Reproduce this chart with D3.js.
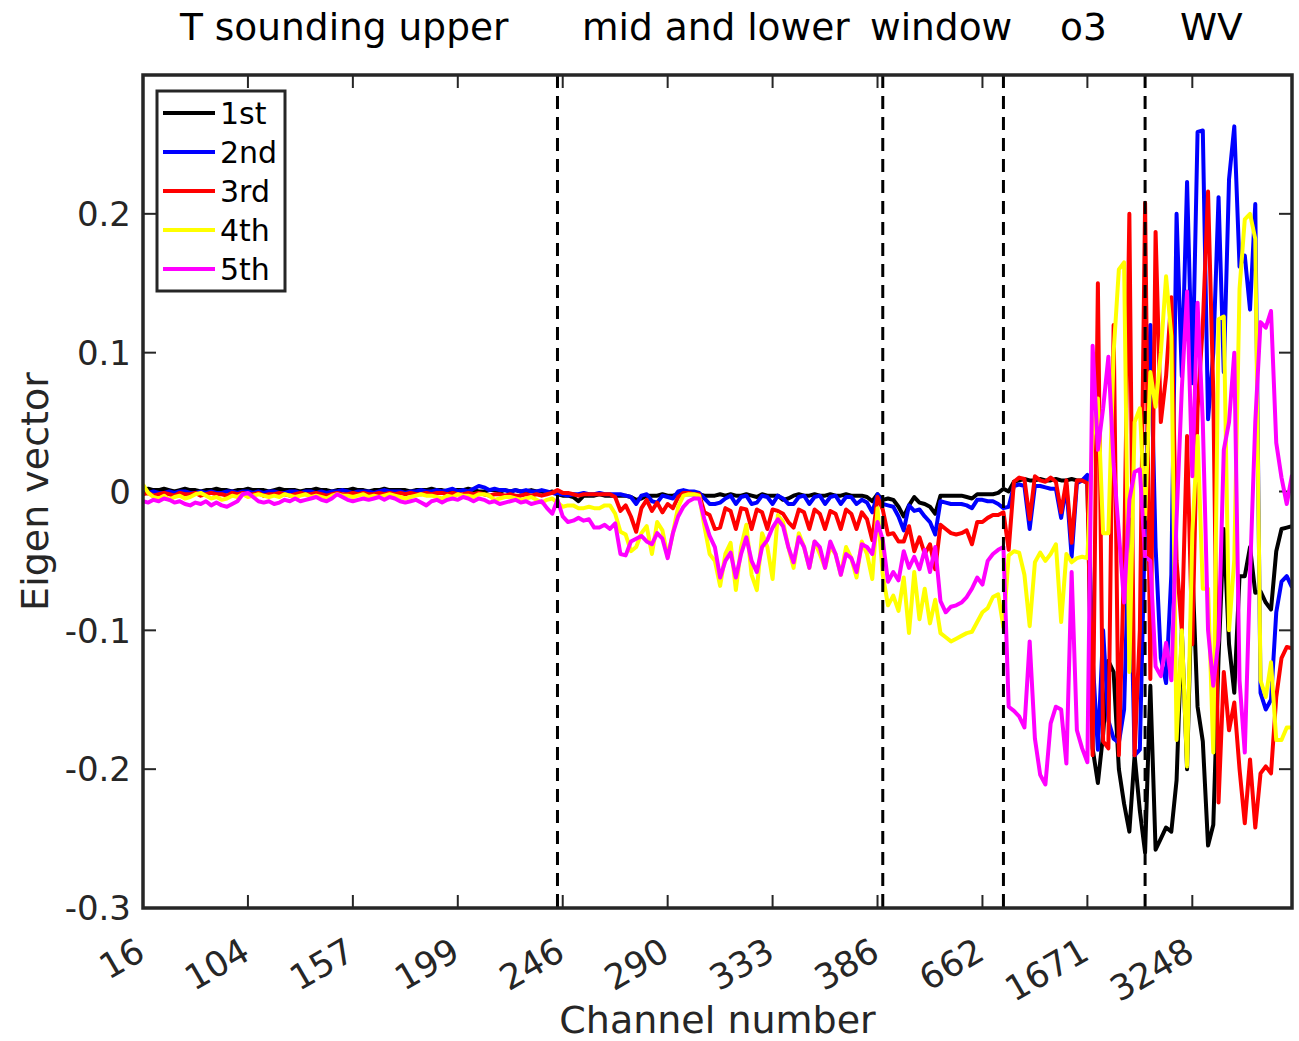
<!DOCTYPE html>
<html>
<head>
<meta charset="utf-8">
<script src="https://cdn.jsdelivr.net/npm/d3@7"></script>
<style>
  body { margin: 0; background: #fff; }
  svg { display: block; }
  text { font-family: "DejaVu Sans", sans-serif; fill: #262626; }
</style>
</head>
<body>
<svg id="chart" width="1299" height="1041"></svg>
<script>
// Channel labels shown under every 20th channel index
const tickLabels = ["16", "104", "157", "199", "246", "290", "333", "386", "662", "1671", "3248"];
// Spectral bands written across the top
const bandLabels = ["T sounding upper", "mid and lower", "window", "o3", "WV"];
// Channel indices where one band ends and the next begins
const bandBreaks = [80, 142, 165, 192];
const yTicks = [-0.3, -0.2, -0.1, 0, 0.1, 0.2];
const seriesNames = ["1st", "2nd", "3rd", "4th", "5th"];

// Leading eigenvectors, one value per selected channel (220 channels)
const pc1 = [
  0.001,0.002,0.001,0.001,0.002,0.001,0.000,0.001,0.002,0.001,
  0.001,0.000,0.001,0.001,0.002,0.001,0.001,0.000,0.001,0.001,
  0.002,0.001,0.001,0.001,0.000,0.001,0.002,0.001,0.001,0.001,
  0.000,0.001,0.001,0.002,0.001,0.001,0.000,0.001,0.001,0.001,
  0.002,0.001,0.001,0.000,0.001,0.001,0.002,0.001,0.001,0.001,
  0.001,0.000,0.001,0.001,0.001,0.002,0.001,0.001,0.000,0.001,
  0.001,0.001,0.002,0.001,0.000,0.000,0.001,0.001,0.000,0.001,
  0.000,0.001,0.000,0.000,0.001,0.000,0.000,-0.001,0.000,-0.002,
  -0.003,-0.003,-0.004,-0.007,-0.003,-0.003,-0.003,-0.002,-0.003,-0.003,
  -0.003,-0.003,-0.003,-0.004,-0.006,-0.005,-0.003,-0.003,-0.003,-0.002,
  -0.003,-0.003,-0.002,-0.002,-0.002,-0.002,-0.002,-0.003,-0.003,-0.003,
  -0.002,-0.003,-0.002,-0.003,-0.003,-0.002,-0.003,-0.004,-0.002,-0.003,
  -0.003,-0.003,-0.006,-0.005,-0.003,-0.002,-0.003,-0.003,-0.002,-0.003,
  -0.003,-0.002,-0.003,-0.003,-0.002,-0.003,-0.003,-0.003,-0.004,-0.007,
  -0.002,-0.006,-0.005,-0.006,-0.011,-0.018,-0.010,-0.004,-0.008,-0.009,
  -0.011,-0.016,-0.003,-0.003,-0.003,-0.003,-0.003,-0.004,-0.005,-0.002,
  -0.002,-0.002,-0.002,-0.001,0.002,0.000,0.007,0.008,0.009,0.008,
  0.008,0.009,0.008,0.008,0.009,0.008,0.008,0.009,0.008,0.008,
  0.007,-0.185,-0.210,-0.175,-0.122,-0.130,-0.200,-0.225,-0.245,-0.190,
  -0.230,-0.260,-0.140,-0.258,-0.250,-0.242,-0.245,-0.208,-0.100,-0.200,
  -0.055,-0.155,-0.180,-0.255,-0.240,-0.120,-0.027,-0.110,-0.145,-0.061,
  -0.061,-0.040,-0.073,-0.072,-0.080,-0.085,-0.043,-0.027,-0.026,-0.025
];
const pc2 = [
  0.000,-0.001,0.000,-0.001,-0.001,0.000,-0.001,0.000,0.000,-0.001,
  -0.001,0.000,-0.001,0.000,-0.001,-0.001,0.000,0.000,-0.001,0.000,
  0.000,-0.001,0.000,-0.001,0.000,0.000,-0.001,-0.001,0.000,0.000,
  -0.001,0.000,0.000,-0.001,0.000,-0.001,0.000,0.000,0.001,0.000,
  -0.001,0.000,0.000,0.000,-0.001,0.000,0.001,0.000,0.000,0.000,
  -0.001,0.000,0.000,0.001,0.000,0.000,0.001,0.000,0.001,0.002,
  0.000,0.001,0.000,0.002,0.004,0.003,0.001,0.002,0.001,0.001,
  0.000,0.001,0.000,0.001,0.000,0.000,0.001,0.000,-0.001,-0.002,
  -0.002,-0.003,-0.002,-0.002,-0.001,-0.002,-0.002,-0.001,-0.002,-0.002,
  -0.002,-0.002,-0.003,-0.004,-0.009,-0.003,-0.002,-0.007,-0.008,-0.003,
  -0.004,-0.005,0.000,0.001,0.000,0.000,-0.001,-0.005,-0.009,-0.009,
  -0.008,-0.005,-0.003,-0.009,-0.004,-0.003,-0.009,-0.008,-0.003,-0.004,
  -0.009,-0.003,-0.005,-0.009,-0.009,-0.004,-0.003,-0.009,-0.004,-0.003,
  -0.009,-0.004,-0.003,-0.009,-0.004,-0.004,-0.009,-0.006,-0.008,-0.015,
  -0.002,-0.009,-0.010,-0.011,-0.018,-0.028,-0.010,-0.014,-0.013,-0.018,
  -0.022,-0.031,-0.007,-0.008,-0.009,-0.009,-0.009,-0.010,-0.012,-0.006,
  -0.006,-0.007,-0.007,-0.009,-0.012,-0.011,0.004,0.005,0.004,-0.027,
  0.004,0.004,0.003,0.002,0.002,-0.019,0.004,-0.047,0.006,0.008,
  0.012,-0.120,-0.186,-0.100,-0.165,-0.178,-0.181,-0.157,-0.020,-0.190,
  -0.186,-0.020,0.120,-0.040,-0.120,-0.138,-0.060,0.200,0.083,0.223,
  0.078,0.259,0.260,0.052,0.100,0.212,0.086,0.225,0.263,0.162,
  0.170,0.131,0.207,-0.145,-0.157,-0.150,-0.087,-0.065,-0.061,-0.069
];
const pc3 = [
  -0.002,-0.001,-0.003,-0.002,-0.001,-0.002,-0.003,-0.001,-0.002,-0.002,
  -0.001,-0.003,-0.002,-0.001,-0.002,-0.002,-0.003,-0.001,-0.002,-0.001,
  -0.002,-0.002,-0.001,-0.003,-0.002,-0.002,-0.001,-0.002,-0.003,-0.002,
  -0.001,-0.002,-0.002,-0.001,-0.002,-0.003,-0.002,-0.001,-0.002,-0.002,
  -0.001,-0.002,-0.001,-0.002,-0.002,-0.001,-0.002,-0.001,-0.002,-0.001,
  -0.002,-0.001,-0.002,-0.002,-0.001,-0.002,-0.001,-0.001,-0.002,-0.001,
  -0.002,-0.002,-0.001,-0.002,-0.001,-0.002,-0.003,-0.002,-0.002,-0.003,
  -0.002,-0.003,-0.003,-0.002,-0.003,-0.002,-0.003,-0.002,-0.001,0.001,
  -0.001,-0.001,-0.002,-0.003,-0.002,-0.002,-0.002,-0.002,-0.002,-0.002,
  -0.004,-0.014,-0.010,-0.018,-0.029,-0.012,-0.006,-0.014,-0.008,-0.015,
  -0.009,-0.012,-0.004,-0.001,-0.001,-0.002,-0.002,-0.015,-0.017,-0.027,
  -0.026,-0.012,-0.014,-0.027,-0.012,-0.013,-0.027,-0.013,-0.015,-0.027,
  -0.013,-0.014,-0.016,-0.022,-0.026,-0.013,-0.015,-0.027,-0.013,-0.016,
  -0.027,-0.014,-0.016,-0.027,-0.013,-0.016,-0.027,-0.015,-0.020,-0.035,
  -0.004,-0.013,-0.031,-0.030,-0.036,-0.036,-0.025,-0.043,-0.033,-0.045,
  -0.038,-0.056,-0.024,-0.027,-0.030,-0.031,-0.030,-0.028,-0.038,-0.022,
  -0.022,-0.019,-0.017,-0.017,-0.015,-0.042,0.007,0.010,0.009,-0.020,
  0.011,0.008,0.007,0.010,0.007,-0.015,0.008,-0.037,0.008,0.008,
  0.006,-0.190,0.150,-0.180,-0.185,0.120,-0.190,-0.050,0.200,-0.190,
  -0.100,0.208,-0.135,0.187,0.050,0.083,0.140,-0.050,-0.100,0.040,
  -0.110,0.060,0.120,0.216,0.071,-0.224,-0.130,-0.172,-0.152,-0.200,
  -0.239,-0.193,-0.242,-0.203,-0.198,-0.203,-0.148,-0.120,-0.112,-0.113
];
const pc4 = [
  0.005,-0.001,-0.004,-0.005,-0.003,-0.006,-0.004,-0.003,-0.005,-0.004,
  -0.002,-0.001,-0.003,-0.005,-0.004,-0.006,-0.005,-0.003,-0.004,-0.002,
  -0.004,-0.003,-0.002,-0.003,-0.004,-0.003,-0.004,-0.002,-0.003,-0.004,
  -0.003,-0.002,-0.004,-0.003,-0.004,-0.005,-0.003,-0.002,-0.003,-0.003,
  -0.004,-0.003,-0.002,-0.004,-0.003,-0.004,-0.003,-0.002,-0.003,-0.004,
  -0.005,-0.004,-0.003,-0.002,-0.003,-0.003,-0.004,-0.005,-0.003,-0.004,
  -0.002,-0.003,-0.003,-0.004,-0.002,-0.002,-0.003,-0.006,-0.005,-0.004,
  -0.004,-0.005,-0.006,-0.005,-0.004,-0.006,-0.008,-0.006,-0.005,-0.008,
  -0.011,-0.010,-0.010,-0.012,-0.012,-0.011,-0.012,-0.012,-0.010,-0.010,
  -0.016,-0.029,-0.031,-0.043,-0.040,-0.030,-0.025,-0.045,-0.022,-0.028,
  -0.047,-0.030,-0.011,-0.003,-0.002,-0.002,-0.003,-0.025,-0.045,-0.050,
  -0.068,-0.045,-0.037,-0.071,-0.040,-0.024,-0.060,-0.071,-0.030,-0.040,
  -0.063,-0.017,-0.022,-0.040,-0.055,-0.030,-0.040,-0.055,-0.036,-0.045,
  -0.055,-0.040,-0.045,-0.060,-0.040,-0.048,-0.062,-0.036,-0.045,-0.063,
  -0.012,-0.060,-0.082,-0.075,-0.086,-0.062,-0.102,-0.058,-0.092,-0.070,
  -0.095,-0.078,-0.102,-0.105,-0.108,-0.106,-0.104,-0.102,-0.101,-0.094,
  -0.087,-0.084,-0.076,-0.074,-0.098,-0.046,-0.043,-0.044,-0.060,-0.097,
  -0.051,-0.044,-0.050,-0.045,-0.038,-0.094,-0.045,-0.051,-0.048,-0.047,
  -0.048,0.040,0.067,-0.030,-0.030,0.100,0.160,0.165,-0.130,0.050,
  0.060,-0.020,0.086,0.061,0.100,0.155,0.112,-0.179,-0.100,-0.198,
  -0.030,0.040,-0.070,-0.070,-0.188,0.124,0.126,-0.100,-0.049,0.146,
  0.196,0.200,0.182,-0.136,-0.148,-0.123,-0.179,-0.179,-0.170,-0.170
];
const pc5 = [
  -0.007,-0.008,-0.006,-0.007,-0.005,-0.006,-0.008,-0.007,-0.009,-0.010,
  -0.008,-0.009,-0.007,-0.010,-0.008,-0.010,-0.011,-0.009,-0.007,-0.002,
  -0.001,-0.004,-0.007,-0.008,-0.007,-0.009,-0.008,-0.006,-0.007,-0.005,
  -0.007,-0.006,-0.005,-0.004,-0.006,-0.007,-0.005,-0.002,-0.004,-0.006,
  -0.007,-0.006,-0.005,-0.006,-0.005,-0.004,-0.006,-0.004,-0.005,-0.007,
  -0.008,-0.007,-0.006,-0.008,-0.010,-0.007,-0.006,-0.008,-0.006,-0.005,
  -0.006,-0.004,-0.005,-0.007,-0.005,-0.006,-0.008,-0.007,-0.009,-0.008,
  -0.007,-0.006,-0.008,-0.007,-0.009,-0.008,-0.007,-0.012,-0.016,-0.006,
  -0.018,-0.022,-0.021,-0.019,-0.021,-0.020,-0.026,-0.026,-0.024,-0.027,
  -0.023,-0.045,-0.046,-0.036,-0.034,-0.032,-0.036,-0.038,-0.030,-0.034,
  -0.048,-0.030,-0.018,-0.011,-0.007,-0.005,-0.005,-0.020,-0.032,-0.040,
  -0.062,-0.050,-0.044,-0.062,-0.045,-0.033,-0.050,-0.058,-0.040,-0.035,
  -0.026,-0.020,-0.025,-0.040,-0.051,-0.033,-0.040,-0.055,-0.036,-0.040,
  -0.055,-0.036,-0.045,-0.060,-0.045,-0.048,-0.058,-0.038,-0.040,-0.045,
  -0.022,-0.035,-0.065,-0.058,-0.064,-0.043,-0.055,-0.047,-0.056,-0.042,
  -0.058,-0.040,-0.079,-0.087,-0.083,-0.082,-0.080,-0.076,-0.070,-0.062,
  -0.067,-0.050,-0.045,-0.042,-0.040,-0.155,-0.158,-0.162,-0.170,-0.108,
  -0.178,-0.204,-0.211,-0.167,-0.155,-0.157,-0.196,-0.058,-0.172,-0.185,
  -0.195,0.105,0.030,0.060,0.097,0.020,-0.030,-0.080,-0.006,0.014,
  0.016,-0.047,-0.050,-0.126,-0.133,-0.109,-0.136,-0.020,0.074,0.144,
  0.011,0.136,0.050,-0.100,-0.140,-0.107,0.030,0.050,0.100,-0.136,
  -0.188,-0.060,0.050,0.122,0.118,0.130,0.035,0.010,-0.009,0.012
];

const series = [pc1, pc2, pc3, pc4, pc5];
const colors = ["#000000", "#0000ff", "#ff0000", "#ffff00", "#ff00ff"];

const svg = d3.select("#chart");
const box = { left: 143, right: 1292, top: 75, bottom: 908 };
const ink = "#262626";
const nCh = pc1.length;

const x = d3.scaleLinear().domain([1, nCh]).range([box.left, box.right]);
const y = d3.scaleLinear().domain([-0.3, 0.3]).range([box.bottom, box.top]);
const xTickIdx = tickLabels.map((_, i) => 1 + 20 * i);
const tickLen = 13;

// inward ticks on all four sides
const gTicks = svg.append("g").attr("stroke", ink).attr("stroke-width", 2);
xTickIdx.forEach(t => {
  gTicks.append("line").attr("x1", x(t)).attr("x2", x(t)).attr("y1", box.bottom).attr("y2", box.bottom - tickLen);
  gTicks.append("line").attr("x1", x(t)).attr("x2", x(t)).attr("y1", box.top).attr("y2", box.top + tickLen);
});
yTicks.forEach(t => {
  gTicks.append("line").attr("x1", box.left).attr("x2", box.left + tickLen).attr("y1", y(t)).attr("y2", y(t));
  gTicks.append("line").attr("x1", box.right).attr("x2", box.right - tickLen).attr("y1", y(t)).attr("y2", y(t));
});

// eigenvector curves
const line = d3.line().x((d, i) => x(i + 1)).y(d => y(d));
svg.append("clipPath").attr("id", "plotArea").append("rect")
  .attr("x", box.left).attr("y", box.top)
  .attr("width", box.right - box.left).attr("height", box.bottom - box.top);
const gLines = svg.append("g").attr("clip-path", "url(#plotArea)");
series.forEach((s, k) => {
  gLines.append("path").datum(s)
    .attr("d", line)
    .attr("fill", "none")
    .attr("stroke", colors[k])
    .attr("stroke-width", 4)
    .attr("stroke-linejoin", "round");
});

// band separators
bandBreaks.forEach(b => {
  svg.append("line")
    .attr("x1", x(b)).attr("x2", x(b))
    .attr("y1", y(0.3)).attr("y2", y(-0.3))
    .attr("stroke", "#000").attr("stroke-width", 3)
    .attr("stroke-dasharray", "13,8");
});

// axes frame
svg.append("rect")
  .attr("x", box.left).attr("y", box.top)
  .attr("width", box.right - box.left).attr("height", box.bottom - box.top)
  .attr("fill", "none").attr("stroke", ink).attr("stroke-width", 3.5);

// y tick labels
svg.append("g").selectAll("text").data(yTicks).join("text")
  .attr("x", box.left - 12).attr("y", d => y(d))
  .attr("dy", "0.36em")
  .attr("text-anchor", "end")
  .attr("font-size", 34)
  .text(d => d === 0 ? "0" : d.toFixed(1));

// x tick labels, slanted
svg.append("g").selectAll("text").data(tickLabels).join("text")
  .attr("text-anchor", "end")
  .attr("font-size", 35)
  .attr("transform", (d, i) => `translate(${x(xTickIdx[i]) + 4},${958}) rotate(-30)`)
  .text(d => d);

// axis titles
svg.append("text").attr("x", (box.left + box.right) / 2).attr("y", 1033)
  .attr("text-anchor", "middle").attr("font-size", 38).text("Channel number");
svg.append("text").attr("transform", `translate(48,${y(0)}) rotate(-90)`)
  .attr("text-anchor", "middle").attr("font-size", 38).text("Eigen vector");

// band names along the top
const bandX = [180, 582, 870, 1060, 1180];
bandLabels.forEach((t, i) => {
  svg.append("text").attr("x", bandX[i]).attr("y", 40)
    .attr("font-size", 37.5).style("fill", "#000").text(t);
});

// legend
const lg = svg.append("g").attr("transform", "translate(157,91)");
lg.append("rect").attr("width", 128).attr("height", 200)
  .attr("fill", "#fff").attr("stroke", ink).attr("stroke-width", 3);
seriesNames.forEach((name, k) => {
  const yy = 22 + k * 39;
  lg.append("line").attr("x1", 6).attr("x2", 58).attr("y1", yy).attr("y2", yy)
    .attr("stroke", colors[k]).attr("stroke-width", 4);
  lg.append("text").attr("x", 63).attr("y", yy).attr("dy", "0.36em")
    .attr("font-size", 30).style("fill", "#000").text(name);
});
</script>
</body>
</html>
